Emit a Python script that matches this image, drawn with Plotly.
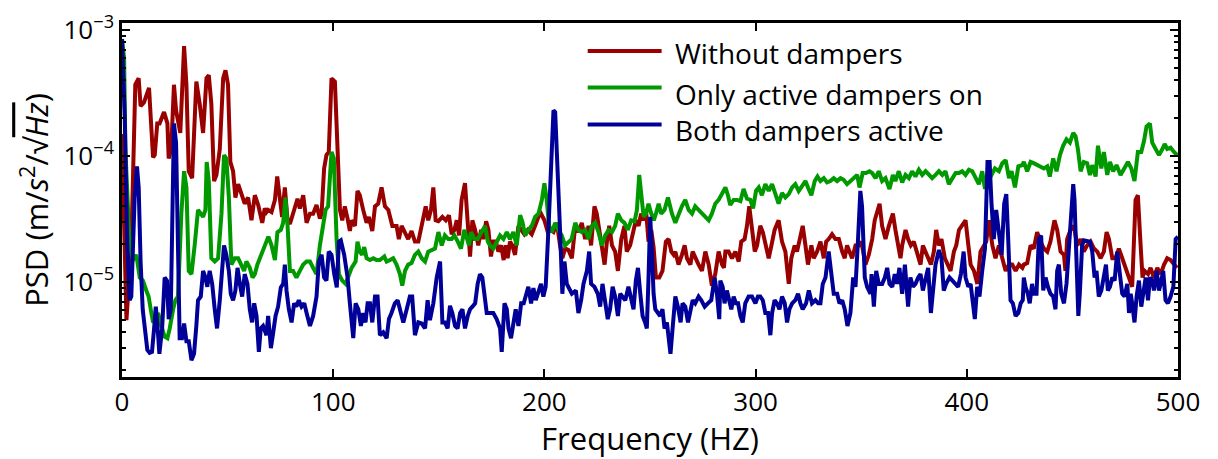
import plotly.graph_objects as go

UNIT = 1e-5  # PSD values below are in units of 1e-5 m/s^2/sqrt(Hz)

red_freq = [0, 1.0, 2.1, 4.4, 6.3, 7.9, 8.8, 10.4, 12.8, 14.7, 15.5, 16.7, 17.8, 19.9, 21.5, 22.1, 23.3, 24.6, 25.6, 27.6,
            29.4, 30.5, 31.6, 33.2, 35.2, 36.8, 38.4, 40.0, 41.1, 42.3, 43.6, 44.7, 46.3, 47.9, 49.0, 50.2, 51.3, 52.6, 53.7, 55.0,
            56.5, 58.1, 59.7, 61.3, 62.9, 64.5, 66.4, 67.6, 68.4, 69.2, 70.8, 72.4, 73.5, 74.7, 75.8, 77.1, 78.4, 79.5, 81.0, 83.1,
            84.2, 85.8, 87.4, 89.0, 90.5, 92.1, 93.7, 94.5, 95.7, 96.8, 97.9, 99.2, 100.8, 102.1, 103.2, 104.3, 105.5, 106.8, 107.9, 108.7,
            110.3, 111.5, 112.6, 114.2, 115.8, 116.9, 118.5, 119.8, 121.3, 122.9, 124.5, 126.1, 128.0, 130.0, 131.1, 132.4, 133.7, 135.5, 137.1, 138.7,
            140.3, 142.7, 143.8, 145.0, 146.3, 147.4, 148.5, 149.8, 151.7, 153.3, 154.8, 156.1, 157.4, 158.5, 159.6, 160.8, 162.4, 163.7, 164.8, 165.9,
            167.2, 168.7, 170.0, 171.1, 172.4, 173.5, 174.7, 175.8, 177.0, 178.2, 179.5, 180.7, 181.7, 182.6, 183.7, 184.8, 186.1, 187.7, 189.3, 190.5,
            192.1, 194.0, 195.6, 197.2, 198.4, 200.0, 201.6, 202.7, 204.3, 205.9, 207.4, 208.5, 209.8, 211.4, 213.0, 214.6, 216.1, 217.7, 219.3, 220.9,
            222.1, 223.7, 224.8, 225.9, 227.2, 228.5, 229.6, 230.7, 232.0, 233.5, 234.8, 236.4, 237.9, 239.0, 240.6, 242.2, 243.3, 244.6, 245.8, 246.9,
            248.1, 249.3, 250.6, 251.7, 252.8, 254.4, 255.9, 257.5, 258.8, 260.1, 261.2, 262.0, 263.5, 265.1, 266.4, 267.5, 269.1, 270.2, 271.4, 273.0,
            274.6, 276.2, 277.8, 279.3, 280.9, 282.5, 284.1, 285.0, 285.7, 287.2, 288.8, 290.4, 292.0, 293.2, 294.8, 295.9, 297.0, 298.3, 299.6, 300.7,
            302.2, 303.4, 304.6, 306.2, 307.5, 309.0, 310.9, 312.5, 314.1, 315.7, 316.9, 318.5, 319.6, 321.2, 322.3, 323.6, 324.8, 326.4, 327.5, 329.1,
            330.7, 332.3, 333.4, 334.6, 336.2, 337.8, 339.4, 341.0, 342.2, 343.3, 344.4, 345.7, 347.3, 348.8, 350.1, 352.0, 353.6, 355.2, 356.4, 357.5,
            358.7, 359.9, 361.5, 363.1, 365.0, 366.2, 367.5, 368.6, 369.4, 371.0, 372.2, 373.5, 374.9, 376.5, 378.1, 379.2, 380.5, 381.7, 383.0, 384.4,
            385.5, 386.8, 388.0, 389.6, 391.2, 392.3, 393.9, 395.0, 396.3, 397.8, 399.4, 400.4, 401.8, 403.4, 405.0, 406.5, 408.1, 409.2, 410.5, 412.1,
            413.6, 415.2, 416.8, 418.4, 420.0, 421.5, 423.1, 424.7, 426.3, 427.0, 428.6, 430.2, 431.7, 433.3, 434.9, 436.5, 438.1, 439.6, 441.5, 442.8,
            444.4, 446.0, 446.7, 447.5, 449.1, 450.7, 452.3, 453.9, 455.4, 457.0, 458.6, 460.2, 461.8, 463.3, 464.9, 466.2, 467.3, 468.9, 470.4, 472.0,
            473.6, 475.2, 476.8, 478.3, 479.9, 481.0, 482.3, 483.2, 484.2, 485.8, 487.0, 488.6, 490.2, 491.8, 493.4, 494.9, 496.5, 498.1, 499.5]
red_psd = [15, 4.0, 0.5, 1.96, 37, 41.5, 25, 26.7, 34.8, 9.8, 10.2, 18.2, 18.2, 22.4, 18.2, 9.6, 11.4, 36.9, 23.1, 15.3,
           74.7, 36.9, 7.6, 6.7, 39.1, 26.0, 15.3, 41.5, 44.0, 26.0, 6.35, 7.1, 11.4, 41.5, 48.1, 36.9, 9.0, 7.6, 4.7, 6.0,
           5.0, 4.2, 4.7, 3.1, 4.9, 4.1, 2.96, 3.85, 3.6, 3.75, 3.6, 4.5, 6.9, 4.5, 3.3, 5.65, 3.1, 2.9, 3.6, 4.6,
           3.85, 4.9, 2.96, 3.5, 3.5, 4.1, 3.2, 3.5, 8.0, 10.2, 10.8, 41.5, 39.1, 8.5, 3.75, 3.1, 4.0, 3.2, 2.55, 3.1,
           2.8, 5.3, 4.9, 3.75, 2.96, 3.3, 2.55, 4.0, 4.2, 5.65, 4.0, 3.75, 2.8, 2.8, 2.2, 2.8, 2.5, 2.2, 2.55, 2.1,
           2.1, 3.5, 4.0, 3.1, 3.75, 5.65, 3.1, 3.05, 3.3, 3.1, 3.4, 2.4, 2.6, 3.1, 2.35, 4.5, 6.1, 2.96, 1.6, 3.1,
           2.6, 1.96, 2.6, 2.2, 3.05, 2.6, 1.6, 2.1, 2.1, 1.75, 1.96, 1.5, 1.96, 1.55, 2.1, 1.96, 1.65, 2.8, 2.55, 2.4,
           2.6, 2.4, 2.8, 3.3, 3.5, 3.1, 2.5, 2.6, 2.5, 2.96, 1.96, 1.55, 1.85, 1.8, 1.55, 2.8, 2.5, 2.96, 2.2, 2.8,
           1.96, 4.0, 3.5, 2.6, 1.96, 1.38, 2.1, 2.8, 1.96, 1.75, 1.23, 2.2, 2.8, 1.75, 1.96, 2.5, 3.1, 2.8, 3.5, 3.1,
           3.75, 2.1, 2.6, 1.9, 1.09, 1.09, 1.23, 2.1, 2.2, 1.75, 1.65, 1.75, 1.38, 1.65, 1.96, 1.55, 1.38, 1.75, 1.55, 1.38,
           1.23, 1.75, 1.38, 0.94, 1.16, 1.75, 1.38, 1.3, 1.75, 1.75, 1.55, 1.75, 1.46, 2.1, 2.2, 2.8, 4.0, 2.6, 1.75, 1.96,
           2.8, 2.5, 1.96, 1.55, 1.96, 2.6, 3.1, 2.1, 1.75, 0.97, 1.55, 1.96, 1.75, 2.35, 2.8, 1.96, 1.38, 1.96, 1.55, 1.75,
           2.1, 1.55, 2.1, 2.2, 2.4, 2.2, 2.2, 1.75, 1.55, 1.96, 1.75, 1.55, 1.96, 1.96, 2.1, 1.38, 1.65, 2.2, 3.1, 3.5,
           4.2, 2.8, 2.2, 2.8, 3.5, 2.6, 1.96, 1.55, 1.96, 2.6, 2.2, 1.96, 2.1, 1.75, 1.38, 1.96, 1.75, 1.55, 1.38, 1.75,
           2.6, 1.96, 2.2, 1.55, 1.38, 1.23, 1.75, 1.96, 2.6, 2.8, 3.1, 2.2, 1.38, 1.23, 0.97, 1.75, 1.96, 2.1, 3.1, 1.96,
           1.55, 1.96, 1.55, 1.23, 1.38, 1.38, 1.23, 1.38, 1.3, 1.38, 1.42, 1.96, 1.85, 2.5, 2.1, 1.85, 1.75, 2.1, 3.1, 2.6,
           1.75, 1.65, 1.23, 2.2, 2.6, 2.8, 1.96, 2.2, 1.75, 1.96, 2.1, 1.85, 1.75, 1.55, 1.75, 2.5, 2.2, 1.55, 1.55, 1.85,
           1.55, 1.3, 1.09, 0.92, 4.5, 4.9, 1.96, 1.09, 1.23, 1.16, 1.3, 1.09, 1.3, 1.16, 1.38, 1.55, 1.5, 1.38, 1.3]

green_freq = [0, 1.0, 1.6, 2.8, 3.6, 5.2, 6.8, 8.4, 9.9, 11.5, 12.6, 13.6, 14.7, 15.8, 17.1, 18.6, 20.2, 21.5, 22.6, 24.2,
              25.3, 26.5, 28.1, 29.4, 30.5, 31.6, 32.9, 34.4, 36.0, 37.3, 38.4, 39.5, 40.1, 41.1, 42.3, 43.9, 45.5, 47.1, 48.3, 49.4,
              50.6, 51.8, 53.4, 55.0, 56.5, 57.8, 58.9, 60.5, 61.8, 62.9, 64.1, 66.0, 67.6, 69.3, 70.8, 72.4, 73.6, 75.2, 76.3, 77.4,
              78.4, 79.5, 81.0, 82.6, 84.2, 85.8, 87.4, 89.0, 90.5, 92.1, 93.7, 95.3, 96.4, 97.6, 99.2, 100.3, 101.6, 102.7, 104.3, 105.9,
              107.4, 108.7, 110.6, 111.5, 112.6, 113.7, 114.7, 115.8, 117.4, 119.0, 120.5, 122.1, 124.2, 125.3, 126.9, 128.4, 130.0, 131.6, 132.7, 134.0,
              135.5, 137.1, 138.7, 140.3, 141.9, 143.5, 145.0, 146.6, 148.2, 149.8, 151.4, 152.9, 154.5, 156.1, 157.4, 159.0, 160.5, 162.1, 163.2, 164.3,
              165.3, 166.8, 168.4, 170.0, 171.9, 173.2, 174.3, 175.8, 177.4, 179.0, 180.6, 182.2, 183.7, 185.3, 186.9, 188.5, 189.6, 190.9, 192.4, 194.0,
              195.6, 197.2, 198.8, 200.0, 201.1, 202.2, 203.5, 205.1, 206.6, 208.2, 209.8, 211.4, 212.9, 214.6, 216.1, 217.7, 219.3, 220.9, 222.5, 224.0,
              225.6, 227.2, 228.8, 230.4, 232.0, 233.5, 234.8, 236.4, 237.9, 239.5, 241.1, 242.7, 243.8, 244.9, 245.8, 247.0, 248.1, 249.3, 250.6, 251.8,
              252.8, 254.1, 255.3, 256.9, 258.5, 260.4, 262.0, 263.5, 265.1, 266.7, 268.3, 269.9, 271.4, 273.0, 274.6, 276.2, 277.8, 279.3, 280.9, 282.5,
              284.1, 285.7, 286.9, 288.0, 289.6, 291.2, 292.8, 294.3, 295.9, 297.5, 298.8, 300.2, 301.5, 303.0, 304.6, 306.2, 307.8, 309.4, 310.9, 312.5,
              314.1, 315.7, 317.3, 318.8, 320.4, 322.0, 323.6, 324.8, 326.4, 328.0, 329.3, 330.7, 332.3, 333.8, 335.4, 337.0, 338.6, 340.2, 341.7, 343.3,
              344.9, 346.5, 348.1, 349.2, 350.7, 352.3, 353.9, 355.2, 356.8, 358.3, 359.9, 361.5, 363.4, 365.0, 366.2, 367.8, 369.4, 371.0, 372.6, 374.1,
              375.7, 377.3, 378.9, 380.5, 382.0, 383.6, 385.2, 386.8, 388.4, 389.9, 391.5, 393.1, 394.7, 396.3, 397.8, 399.4, 401.0, 402.6, 404.2, 405.7,
              407.3, 408.6, 410.2, 411.7, 413.3, 415.2, 416.8, 418.4, 420.0, 421.2, 422.8, 424.4, 426.3, 427.0, 428.6, 430.2, 431.7, 433.3, 434.9, 436.5,
              438.1, 439.3, 440.9, 442.5, 444.1, 445.6, 447.2, 448.8, 450.4, 451.5, 452.6, 453.9, 455.4, 457.0, 458.3, 459.4, 461.0, 462.1, 463.7, 464.9,
              466.5, 467.8, 469.3, 470.9, 472.8, 474.4, 476.3, 477.9, 479.4, 481.0, 482.6, 483.9, 485.1, 486.7, 487.8, 489.4, 491.0, 492.6, 493.7, 494.9,
              496.5, 498.1, 499.7]
green_psd = [85, 60, 11.4, 3.5, 1.96, 1.5, 1.65, 1.09, 1.03, 0.86, 0.77, 0.61, 0.48, 0.5, 0.57, 0.45, 0.37, 0.36, 0.43, 0.61,
             0.72, 0.77, 3.5, 7.6, 5.65, 1.23, 1.16, 1.96, 3.75, 3.5, 3.3, 3.75, 9.0, 6.35, 1.55, 1.46, 1.55, 3.5, 10.2, 9.6,
             4.7, 1.38, 1.55, 1.55, 1.38, 1.23, 1.46, 1.3, 1.09, 1.16, 1.38, 1.65, 1.96, 2.3, 1.96, 1.5, 2.5, 2.6, 2.96, 4.7,
             2.8, 1.23, 1.23, 1.09, 1.23, 1.38, 1.46, 1.46, 1.3, 1.16, 1.96, 3.1, 3.75, 4.0, 10.8, 9.6, 2.2, 1.16, 1.03, 0.97,
             1.16, 1.3, 1.46, 2.1, 1.75, 1.65, 1.9, 1.55, 1.5, 1.55, 1.5, 1.5, 1.6, 1.46, 1.5, 1.55, 1.38, 1.16, 0.94, 1.23,
             1.38, 1.42, 1.65, 1.75, 1.55, 1.46, 1.75, 1.8, 1.85, 2.5, 1.96, 2.35, 2.2, 2.2, 2.35, 2.1, 1.85, 2.6, 2.2, 1.96,
             2.5, 2.2, 2.2, 2.5, 2.8, 2.1, 1.96, 1.85, 2.1, 2.35, 2.2, 2.5, 2.2, 2.5, 1.96, 3.4, 3.0, 2.35, 2.6, 2.8,
             3.3, 3.5, 4.5, 6.1, 4.5, 2.8, 2.5, 2.96, 2.6, 2.35, 1.96, 2.1, 2.2, 2.96, 2.6, 2.5, 2.6, 2.2, 2.8, 2.96,
             2.5, 1.96, 2.35, 2.6, 2.5, 2.8, 3.5, 3.1, 2.96, 2.6, 3.1, 3.05, 3.75, 7.1, 5.0, 3.3, 3.5, 4.2, 3.5, 3.1,
             3.5, 4.2, 3.5, 3.75, 4.7, 3.5, 2.96, 3.5, 4.0, 4.5, 3.75, 3.5, 4.0, 3.75, 3.5, 3.3, 3.1, 3.5, 4.2, 4.5,
             5.0, 5.65, 4.9, 4.1, 4.5, 4.5, 4.4, 5.5, 4.6, 4.5, 3.85, 5.3, 5.65, 4.9, 6.0, 5.3, 6.0, 5.0, 4.2, 5.1,
             4.7, 5.0, 5.65, 6.0, 5.3, 5.8, 6.35, 5.65, 4.9, 6.35, 6.9, 6.35, 6.7, 6.2, 6.35, 6.7, 6.35, 6.7, 6.5, 6.0,
             6.35, 6.7, 7.1, 5.65, 7.35, 7.35, 7.6, 7.35, 6.7, 7.6, 6.35, 6.7, 5.5, 7.1, 6.35, 7.6, 6.2, 7.1, 6.7, 7.6,
             6.9, 7.8, 7.1, 7.6, 7.1, 6.7, 7.1, 7.6, 7.1, 7.6, 6.0, 6.7, 7.35, 7.35, 7.6, 7.1, 7.8, 7.6, 6.7, 6.0,
             7.6, 5.5, 7.6, 7.1, 8.0, 7.6, 8.8, 9.3, 6.7, 7.6, 5.65, 8.3, 8.5, 9.0, 7.6, 9.0, 8.8, 8.5, 8.3, 8.0,
             8.3, 6.9, 9.6, 7.6, 10.2, 12.1, 13.6, 12.8, 15.3, 14.4, 11.4, 7.6, 9.0, 8.8, 7.1, 8.5, 6.9, 12.1, 8.0, 10.8,
             7.1, 9.0, 7.6, 8.5, 7.1, 8.0, 9.0, 8.0, 6.35, 10.8, 10.8, 13.2, 17.2, 18.2, 12.8, 11.4, 10.2, 11.4, 12.5, 11.4,
             11.7, 10.8, 10.2]

blue_freq = [0, 1.3, 2.5, 3.6, 4.4, 5.2, 6.0, 7.1, 7.9, 8.8, 9.8, 10.7, 12.0, 13.1, 14.2, 15.2, 16.0, 16.8, 17.7, 19.0,
             20.2, 21.3, 22.1, 23.1, 23.9, 24.6, 25.6, 26.5, 27.3, 28.4, 29.4, 30.5, 31.6, 32.9, 34.1, 35.2, 36.0, 37.3, 38.4, 39.5,
             40.4, 41.5, 42.7, 43.9, 45.0, 46.3, 47.4, 48.3, 49.4, 50.6, 51.5, 52.6, 53.7, 54.7, 55.8, 56.9, 58.1, 59.4, 60.5, 61.6,
             62.6, 63.7, 64.8, 65.7, 66.8, 68.4, 69.2, 70.5, 71.6, 72.7, 73.9, 75.2, 76.3, 77.1, 77.9, 79.0, 80.3, 81.5, 82.6, 83.7,
             85.0, 86.3, 87.4, 89.0, 90.5, 92.1, 93.2, 94.5, 95.7, 96.8, 97.9, 99.2, 100.5, 101.7, 102.7, 103.6, 105.2, 106.8, 107.9, 109.5,
             110.6, 111.9, 113.1, 114.2, 115.3, 116.3, 117.4, 118.5, 119.8, 121.0, 122.1, 123.7, 125.3, 126.4, 127.6, 129.2, 130.5, 131.6, 133.2, 134.8,
             136.3, 137.4, 138.7, 140.3, 141.9, 143.5, 144.7, 145.8, 147.4, 149.0, 150.6, 151.7, 152.9, 154.2, 155.3, 156.4, 157.7, 158.9, 160.1, 161.2,
             162.4, 163.7, 164.8, 165.9, 167.2, 168.4, 169.5, 170.6, 171.6, 172.7, 174.3, 175.8, 177.4, 179.0, 179.8, 181.1, 182.2, 183.0, 184.2, 185.3,
             186.4, 187.7, 189.0, 190.2, 191.2, 192.4, 193.7, 194.8, 195.9, 197.2, 198.4, 199.5, 200.6, 201.9, 203.2, 204.3, 205.1, 206.3, 207.4, 208.5,
             209.5, 210.6, 212.2, 213.0, 214.9, 216.1, 217.4, 218.5, 220.1, 221.2, 222.1, 223.7, 225.3, 226.4, 227.5, 228.8, 230.0, 231.1, 232.3, 233.5,
             234.8, 235.9, 237.0, 238.3, 239.8, 241.1, 242.2, 243.3, 244.3, 245.4, 246.5, 247.7, 248.5, 249.3, 250.1, 250.9, 251.7, 252.5, 253.7, 254.8,
             255.9, 256.9, 258.0, 258.8, 259.7, 260.7, 262.0, 263.2, 264.5, 265.4, 266.7, 268.0, 269.1, 270.2, 271.4, 273.0, 274.3, 275.9, 277.4, 279.0,
             280.6, 281.7, 282.8, 283.3, 284.4, 285.3, 286.4, 287.2, 288.5, 289.6, 290.7, 291.7, 292.8, 293.9, 295.1, 296.7, 298.3, 299.9, 301.1, 302.2,
             303.4, 304.6, 305.9, 307.0, 307.8, 309.0, 310.1, 311.3, 312.5, 313.8, 314.9, 316.0, 317.3, 318.8, 320.1, 321.2, 322.3, 323.9, 325.2, 326.7,
             328.3, 329.6, 330.7, 331.8, 333.1, 334.6, 335.9, 337.0, 338.6, 339.7, 341.0, 342.2, 343.5, 344.9, 346.2, 347.3, 348.5, 349.6, 350.4, 351.7,
             352.8, 354.4, 354.9, 356.0, 357.1, 358.3, 359.9, 361.2, 362.3, 363.4, 364.7, 365.9, 367.0, 368.1, 369.4, 370.7, 372.2, 373.3, 374.5, 375.7,
             377.0, 378.1, 379.2, 380.5, 381.7, 383.0, 384.2, 385.2, 386.8, 388.0, 389.1, 390.2, 391.8, 393.4, 394.7, 395.9, 397.2, 398.5, 399.4, 400.7,
             401.8, 402.9, 403.8, 404.9, 406.0, 407.3, 408.6, 409.8, 410.8, 411.7, 412.8, 413.9, 415.2, 416.5, 417.7, 418.7, 419.6, 420.7, 421.8, 423.1,
             424.4, 425.5, 426.5, 427.0, 427.8, 428.9, 429.8, 430.9, 431.7, 433.0, 434.1, 435.2, 436.2, 437.3, 438.4, 439.6, 440.9, 442.0, 442.8, 443.6,
             444.7, 446.0, 447.2, 448.3, 449.4, 450.4, 451.0, 452.0, 452.8, 453.5, 454.6, 455.4, 457.0, 458.3, 459.4, 460.5, 461.4, 462.5, 463.7, 464.9,
             465.9, 466.8, 467.8, 468.9, 470.0, 471.2, 472.5, 473.6, 474.7, 476.0, 476.8, 477.6, 478.3, 479.4, 480.4, 481.5, 482.6, 483.6, 484.7, 485.8,
             486.7, 487.8, 488.6, 489.9, 491.0, 491.8, 493.0, 494.1, 495.2, 496.5, 497.8, 498.9, 500.0]
blue_psd = [85, 20.5, 1.96, 0.72, 0.77, 1.96, 4.7, 8.3, 5.65, 1.46, 0.61, 0.45, 0.29, 0.275, 0.28, 0.43, 0.64, 0.45, 0.27, 0.43,
            1.09, 1.03, 0.51, 0.61, 3.5, 18.2, 12.8, 1.96, 0.36, 0.36, 0.47, 0.34, 0.34, 0.24, 0.27, 0.45, 0.72, 0.77, 1.23, 1.09,
            0.92, 1.23, 0.97, 0.61, 0.43, 0.72, 1.38, 1.96, 1.65, 1.23, 0.81, 0.72, 0.86, 1.3, 0.97, 0.77, 1.16, 0.97, 0.61, 0.48,
            0.68, 0.54, 0.28, 0.43, 0.45, 0.38, 0.54, 0.30, 0.40, 0.54, 0.64, 0.91, 0.97, 1.38, 0.86, 0.61, 0.48, 0.68, 0.64, 0.72,
            0.64, 0.68, 0.57, 0.45, 0.54, 0.77, 1.46, 1.65, 1.09, 1.03, 1.75, 1.65, 1.16, 0.91, 2.1, 2.15, 1.65, 1.09, 0.68, 0.36,
            0.68, 0.61, 0.45, 0.57, 0.48, 0.68, 0.68, 0.48, 0.77, 0.77, 0.38, 0.40, 0.36, 0.51, 0.57, 0.68, 0.72, 0.61, 0.48, 0.61,
            0.77, 0.77, 0.38, 0.48, 0.47, 0.43, 0.72, 0.50, 0.68, 1.09, 1.46, 0.48, 0.48, 0.43, 0.65, 0.57, 0.45, 0.43, 0.57, 0.61,
            0.43, 0.54, 0.61, 0.64, 0.68, 0.97, 1.16, 1.09, 0.77, 0.57, 0.57, 0.57, 0.51, 0.43, 0.28, 0.68, 0.61, 0.43, 0.36, 0.48,
            0.61, 0.45, 0.68, 0.68, 0.81, 0.92, 0.68, 0.90, 0.72, 0.86, 0.97, 0.77, 0.92, 2.6, 8.5, 23.1, 22.4, 8.5, 2.6, 0.81,
            1.46, 0.97, 0.86, 0.81, 0.86, 0.57, 0.72, 0.97, 1.23, 1.75, 0.97, 0.92, 0.81, 0.64, 0.97, 0.68, 0.51, 0.61, 0.92, 0.77,
            0.54, 0.81, 0.77, 0.72, 0.92, 0.72, 0.61, 1.03, 1.3, 0.81, 0.54, 0.48, 0.43, 1.09, 3.3, 1.75, 0.81, 0.61, 0.57, 0.54,
            0.61, 0.43, 0.48, 0.34, 0.27, 0.43, 0.77, 0.64, 0.48, 0.68, 0.64, 0.48, 0.61, 0.72, 0.68, 0.77, 0.72, 0.64, 0.68, 0.72,
            1.09, 0.81, 0.51, 1.03, 0.92, 0.68, 0.86, 0.77, 0.61, 0.77, 0.68, 0.68, 0.54, 0.48, 0.68, 0.77, 0.77, 0.68, 0.77, 0.77,
            0.72, 0.57, 0.57, 0.38, 0.57, 0.72, 0.68, 0.61, 0.77, 0.68, 0.48, 0.61, 0.68, 0.72, 0.81, 0.68, 0.61, 0.68, 0.86, 0.68,
            0.72, 0.68, 0.68, 0.97, 1.09, 1.75, 1.23, 0.81, 0.81, 0.68, 0.72, 0.61, 0.45, 0.57, 1.09, 0.92, 2.2, 5.3, 4.0, 1.09,
            0.92, 0.81, 1.16, 0.64, 1.23, 0.97, 0.97, 1.09, 1.3, 0.97, 0.92, 1.16, 0.97, 1.3, 0.81, 1.38, 0.64, 1.09, 0.92, 0.97,
            1.09, 1.16, 0.86, 1.09, 1.3, 0.57, 1.03, 1.38, 1.8, 1.55, 0.86, 0.97, 1.09, 1.03, 0.97, 0.92, 1.16, 1.75, 1.09, 0.92,
            0.97, 0.68, 0.51, 0.92, 0.77, 1.23, 1.85, 9.0, 9.0, 4.2, 2.2, 3.75, 2.35, 1.65, 4.2, 5.0, 2.2, 0.72, 0.68, 0.54,
            0.57, 0.68, 0.72, 1.09, 0.92, 0.81, 0.68, 0.97, 0.81, 0.81, 2.2, 2.35, 0.86, 1.09, 0.92, 0.81, 0.77, 0.61, 1.23, 1.38,
            0.81, 0.68, 0.97, 1.96, 3.5, 6.0, 4.5, 1.3, 0.54, 0.81, 1.96, 2.15, 2.1, 2.1, 1.75, 1.09, 1.23, 0.77, 0.86, 1.09,
            1.38, 0.86, 0.92, 1.09, 1.03, 1.75, 1.23, 0.81, 0.77, 0.97, 0.57, 0.81, 0.68, 0.48, 0.77, 1.03, 0.64, 0.81, 1.09, 0.72,
            1.09, 1.03, 0.86, 1.23, 0.86, 0.97, 1.23, 0.72, 0.68, 0.77, 0.92, 2.2, 2.3]

series = [
    ("Without dampers", red_freq, red_psd, "#990000"),
    ("Only active dampers on", green_freq, green_psd, "#009900"),
    ("Both dampers active", blue_freq, blue_psd, "#000099"),
]

FONT = "Open Sans"
fig = go.Figure()
for name, f, v, c in series:
    fig.add_trace(go.Scatter(x=f, y=[p * UNIT for p in v], mode="lines", name=name,
                             line=dict(color=c, width=4), showlegend=False))

# legend drawn as line samples + text labels
leg_line_y = [0.921, 0.818, 0.713]
leg_text_y = [0.914, 0.800, 0.697]
for i, (name, f, v, c) in enumerate(series):
    fig.add_shape(type="line", xref="paper", yref="paper", x0=0.441, x1=0.511, y0=leg_line_y[i], y1=leg_line_y[i],
                  line=dict(color=c, width=4))
    fig.add_annotation(xref="paper", yref="paper", x=0.522, y=leg_text_y[i],
                       text=name, showarrow=False, xanchor="left", yanchor="middle",
                       font=dict(family=FONT, size=28, color="black"))

minor_vals = [k * 10.0 ** e for e in (-6, -5, -4, -3) for k in range(2, 10)]

fig.update_layout(
    width=1218, height=459,
    margin=dict(l=122, r=40, t=10, b=81),
    paper_bgcolor="white", plot_bgcolor="white",
    font=dict(family=FONT, size=26, color="black"),
    xaxis=dict(range=[0, 500], tickvals=[0, 100, 200, 300, 400, 500], ticks="inside", ticklen=8, tickwidth=2,
               tickcolor="black", showline=True, linecolor="black", linewidth=2.5, mirror="ticks",
               showgrid=False, zeroline=False, title=dict(text="Frequency (HZ)", standoff=8),
               tickfont=dict(size=26)),
    yaxis=dict(type="log", range=[-5.752, -2.943], tickvals=[1e-5, 1e-4, 1e-3],
               ticktext=["10<sup>\u22125</sup>", "10<sup>\u22124</sup>", "10<sup>\u22123</sup>"],
               ticklabeloverflow="allow",
               ticks="inside", ticklen=8, tickwidth=2, tickcolor="black",
               minor=dict(tickvals=minor_vals, ticks="inside", ticklen=4, tickwidth=1.5, tickcolor="black", showgrid=False),
               showline=True, linecolor="black", linewidth=2.5, mirror="ticks", showgrid=False, zeroline=False,
               title=dict(text="PSD (m/<i>s</i><sup>2</sup>/\u221a<span style='text-decoration:overline'><i>Hz</i></span>)",
                          standoff=6),
               tickfont=dict(size=26)),
)

fig.write_html("out.html")
